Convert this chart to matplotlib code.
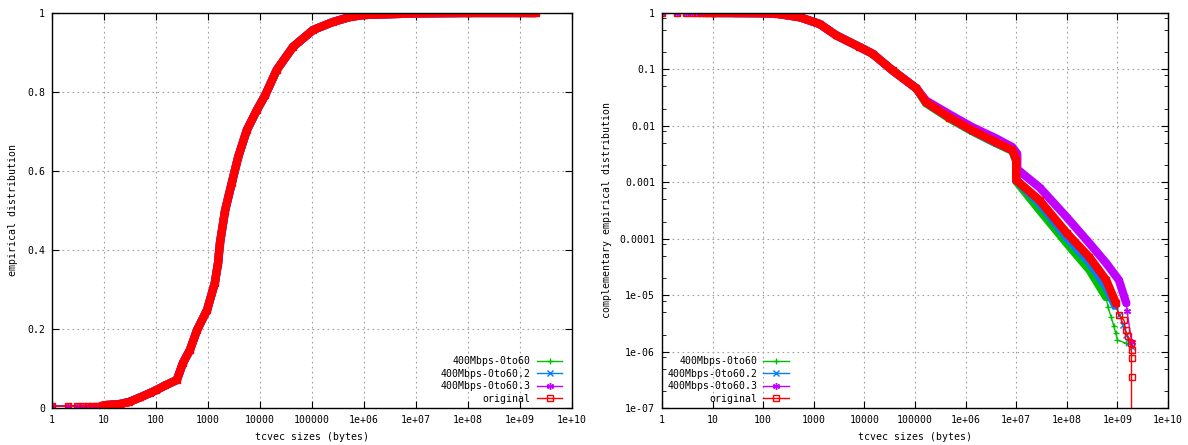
import numpy as np
import matplotlib
matplotlib.use("Agg")
import matplotlib.pyplot as plt
from matplotlib.ticker import FixedLocator, LogLocator, NullLocator

plt.rcParams['font.family'] = ['DejaVu Sans Mono']
plt.rcParams['font.size'] = 7.1

series_names = ["400Mbps-0to60", "400Mbps-0to60.2", "400Mbps-0to60.3", "original"]
colors = ["#00c000", "#0080ff", "#c000ff", "#ff0000"]

# left panel: empirical CDF (the four runs overlap at this scale)
cdf_x = [1, 2, 3, 4, 5, 6, 7, 8, 9, 10, 20, 30, 50, 77, 100, 150, 252, 330, 450, 615,
         960, 1350, 1560, 1700, 2130, 2870, 3800, 5600, 8700, 12600, 21000, 43000,
         105000, 250000, 540000, 1e6, 1e7, 1e8, 1.5e9, 2e9]
cdf_y = [0.005, 0.005, 0.005, 0.005, 0.006, 0.006, 0.006, 0.006, 0.007, 0.007, 0.01,
         0.015, 0.027, 0.038, 0.045, 0.057, 0.071, 0.114, 0.147, 0.197, 0.248, 0.316,
         0.367, 0.418, 0.50, 0.57, 0.635, 0.704, 0.754, 0.792, 0.856, 0.914, 0.957,
         0.977, 0.99, 0.995, 0.999, 1.0, 1.0, 1.0]

# right panel: complementary CDF, shared head
ccdf_head_x = [1, 2, 3, 4, 5, 6, 7, 8, 9, 10, 30, 100, 185, 530, 1300, 2800, 8000,
               14500, 36000, 107000]
ccdf_head_y = [1, 1, 1, 1, 1, 1, 1, 1, 1, 1, 0.998, 0.99, 0.97, 0.84, 0.64, 0.40, 0.25,
               0.19, 0.096, 0.046]

# tails per run
green_tail_x = [166000, 4.8e5, 1.35e6, 4e6, 8.4e6, 1e7, 1e7, 2.9e7, 1e8, 2.8e8, 6e8,
                6.5e8, 7.5e8, 8.5e8, 9.3e8, 1e9, 1.5e9]
green_tail_y = [0.025, 0.0135, 0.008, 0.0049, 0.0036, 0.0024, 0.00105, 0.00032, 8.3e-5,
                2.8e-5, 9.2e-6, 6.2e-6, 4.1e-6, 2.8e-6, 2.1e-6, 1.6e-6, 1.4e-6]
blue_tail_x = [166000, 4.8e5, 1.35e6, 4e6, 8.4e6, 1e7, 1e7, 2.9e7, 1e8, 2.8e8, 6e8,
               9e8, 1.1e9, 1.3e9, 1.5e9, 1.7e9, 1.9e9]
blue_tail_y = [0.026, 0.014, 0.0082, 0.005, 0.0037, 0.0024, 0.0011, 0.00042, 0.000105,
               3.8e-5, 1.4e-5, 6.5e-6, 4.5e-6, 3e-6, 2e-6, 1.5e-6, 1.2e-6]
purple_tail_x = [166000, 4.8e5, 1.35e6, 4e6, 8.4e6, 1.05e7, 1.05e7, 2.9e7, 1e8, 2.8e8,
                 6e8, 1.07e9, 1.5e9, 1.55e9, 1.9e9]
purple_tail_y = [0.028, 0.016, 0.0095, 0.006, 0.0042, 0.0032, 0.0017, 0.00081, 0.00024,
                 8.3e-5, 3.7e-5, 1.85e-5, 7.2e-6, 5.3e-6, 1.5e-6]
red_tail_x = [166000, 4.8e5, 1.35e6, 4e6, 8.4e6, 1e7, 1e7, 2.9e7, 1e8, 2.8e8, 6e8,
              9.4e8, 1.07e9, 1.35e9, 1.45e9, 1.6e9, 1.86e9, 1.9e9, 1.9e9, 1.9e9, 1.9e9]
red_tail_y = [0.026, 0.014, 0.0083, 0.0051, 0.0037, 0.0025, 0.0011, 0.00048, 0.000126,
              4.7e-5, 1.85e-5, 7.2e-6, 4.4e-6, 3.6e-6, 2.4e-6, 1.9e-6, 1.4e-6, 1.07e-6,
              7.8e-7, 3.5e-7, 1e-9]

tails = [(green_tail_x, green_tail_y), (blue_tail_x, blue_tail_y),
         (purple_tail_x, purple_tail_y), (red_tail_x, red_tail_y)]
band_end = [6e8, 9e8, 1.5e9, 1e9]

markers = ["+", "x", (6, 2, 0), "s"]

xticks = [10.0 ** k for k in range(11)]
xticklabels = ["1", "10", "100", "1000", "10000", "100000", "1e+06", "1e+07",
               "1e+08", "1e+09", "1e+10"]


def draw(ax, x, y, color, marker, label, band_from, band_to):
    x = np.array(x, dtype=float)
    y = np.array(y, dtype=float)
    ax.plot(x, y, color=color, lw=1, marker=marker, ms=5, mew=1,
            mfc="none", label=label)
    m = (x >= band_from) & (x <= band_to)
    ax.plot(x[m], y[m], color=color, lw=6, solid_joinstyle="round",
            solid_capstyle="round")


def style(ax, legend_x):
    ax.set_xscale("log")
    ax.set_xlim(1, 1e10)
    ax.xaxis.set_major_locator(FixedLocator(xticks))
    ax.xaxis.set_minor_locator(NullLocator())
    ax.set_xticklabels(xticklabels)
    ax.grid(True, which="major", color="#a0a0a0", ls=(0, (1.5, 3)), lw=0.8)
    ax.tick_params(direction="in", which="both", top=True, right=True, pad=5)
    ax.tick_params(which="major", length=5)
    ax.tick_params(which="minor", length=3)
    for s in ax.spines.values():
        s.set_linewidth(1.0)
    ax.set_xlabel("tcvec sizes (bytes)")
    ax.xaxis.set_label_coords(0.5, -0.062)
    ax.legend(loc="lower right", bbox_to_anchor=(legend_x, 0.0), frameon=False,
              markerfirst=False, numpoints=1, handlelength=2.6, handletextpad=0.6,
              labelspacing=0.24, borderaxespad=0.0, borderpad=0.45)


fig = plt.figure(figsize=(11.88, 4.45), dpi=100)
ax1 = fig.add_axes([52 / 1188, 37 / 445, 520 / 1188, 395 / 445])
ax2 = fig.add_axes([662 / 1188, 37 / 445, 506 / 1188, 395 / 445])

for name, c, mk in zip(series_names, colors, markers):
    draw(ax1, cdf_x, cdf_y, c, mk, name, 10, 3e9)
ax1.set_ylim(0, 1)
ax1.set_yticks([0, 0.2, 0.4, 0.6, 0.8, 1])
ax1.set_yticklabels(["0", "0.2", "0.4", "0.6", "0.8", "1"])
ax1.set_ylabel("empirical distribution")
ax1.yaxis.set_label_coords(-0.066, 0.5)
style(ax1, 0.99)

for name, c, mk, (tx, ty), be in zip(series_names, colors, markers, tails, band_end):
    draw(ax2, ccdf_head_x + tx, ccdf_head_y + ty, c, mk, name, 10, be)
ax2.set_yscale("log")
ax2.set_ylim(1e-7, 1)
ax2.yaxis.set_major_locator(FixedLocator([10.0 ** -k for k in range(8)]))
ax2.set_yticklabels(["1", "0.1", "0.01", "0.001", "0.0001", "1e-05", "1e-06", "1e-07"])
ax2.yaxis.set_minor_locator(LogLocator(base=10, subs=[2, 5, 8]))
ax2.set_ylabel("complementary empirical distribution")
ax2.yaxis.set_label_coords(-0.098, 0.5)
style(ax2, 0.26)

fig.savefig("out.png", dpi=100)
